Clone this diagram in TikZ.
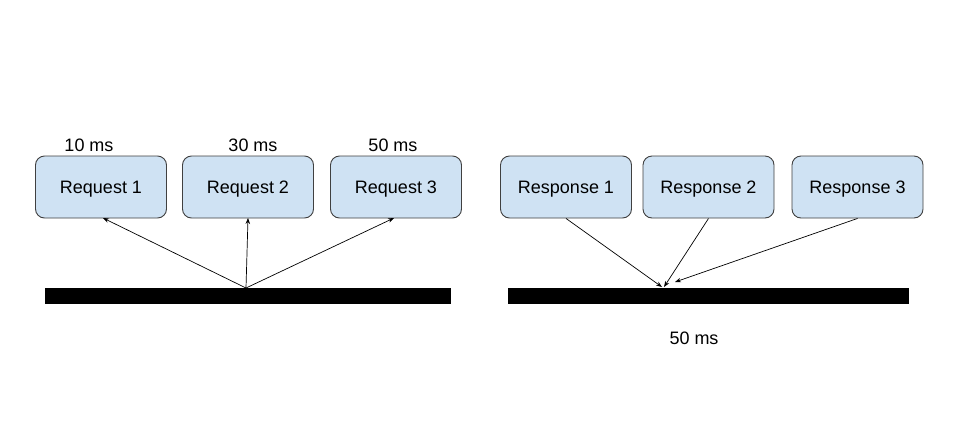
\documentclass[tikz,border=0pt]{standalone}
\usepackage{fontspec}
\setmainfont{Liberation Sans}
\usetikzlibrary{arrows.meta}
\definecolor{boxfill}{HTML}{CFE2F3}
\definecolor{boxline}{HTML}{404040}
\begin{document}
\begin{tikzpicture}[x=1pt,y=-1pt,
  box/.style={draw=boxline, fill=boxfill, rounded corners=9pt, line width=0.9pt,
    minimum width=131pt, minimum height=62pt, inner sep=0pt, text height=13pt, text depth=0pt,
    font=\fontsize{18}{21}\selectfont},
  bar/.style={fill=black, draw=none, inner sep=0pt},
  lbl/.style={inner sep=0pt, font=\fontsize{18}{21}\selectfont},
  conn/.style={line width=0.7pt, -{Stealth[length=6pt,width=4.5pt]}}]
\useasboundingbox[fill=white] (0,0) rectangle (961,437);
% left group
\node[box] (r1) at (101,187) {Request 1};
\node[box] (r2) at (248,187) {Request 2};
\node[box] (r3) at (396,187) {Request 3};
\node[lbl] (t1) at (89,145) {10 ms};
\node[lbl] (t2) at (253,145) {30 ms};
\node[lbl] (t3) at (393,145) {50 ms};
\node[bar, minimum width=406pt, minimum height=16pt] (lb) at (248,296) {};
\coordinate (ls) at (246,288);
\coordinate (a1) at (103,218);
\coordinate (a2) at (248,218);
\coordinate (a3) at (394,218);
\draw[conn] (ls) -- (a1);
\draw[conn] (ls) -- (a2);
\draw[conn] (ls) -- (a3);
% right group
\node[box] (p1) at (566,187) {Response 1};
\node[box] (p2) at (708.5,187) {Response 2};
\node[box] (p3) at (857.5,187) {Response 3};
\node[bar, minimum width=401pt, minimum height=16pt] (rb) at (708.5,295.5) {};
\node[lbl] (t4) at (694,338) {50 ms};
\coordinate (e1) at (662,287);
\coordinate (e2) at (664,287);
\coordinate (e3) at (675,282);
\draw[conn] (p1.south) -- (e1);
\draw[conn] (p2.south) -- (e2);
\draw[conn] (p3.south) -- (e3);
\end{tikzpicture}
\end{document}
